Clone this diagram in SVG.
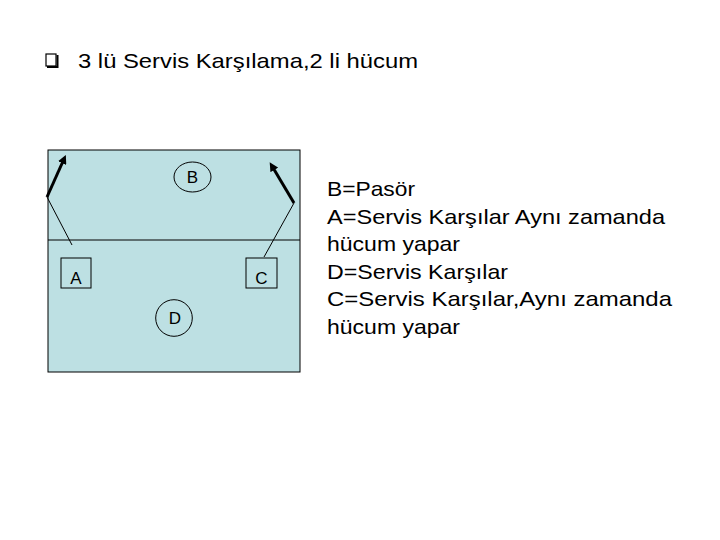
<svg xmlns="http://www.w3.org/2000/svg" width="720" height="540" viewBox="0 0 720 540">
<style>
text{font-family:"Liberation Sans",Arial,sans-serif;fill:#000}
.t{font-size:21px}
.lbl{font-size:17px;text-anchor:middle}
.node{fill:none;stroke:#000;stroke-width:1}
.thin{stroke:#000;stroke-width:1;fill:none}
.thick{stroke:#000;stroke-width:3;fill:none}
</style>
<defs>
<marker id="ah" viewBox="0 0 10 10" refX="5" refY="5" markerWidth="3" markerHeight="3" orient="auto">
<path d="M0,0 L10,5 L0,10 z" fill="#000"/>
</marker>
</defs>
<rect width="720" height="540" fill="#fff"/>
<g id="title">
<rect x="46" y="54" width="10" height="12" fill="#fff" stroke="#000" stroke-width="1.2"/>
<path d="M47,67 H57.5 V55" fill="none" stroke="#000" stroke-width="2"/>
<text class="t" x="78" y="68" textLength="340" lengthAdjust="spacingAndGlyphs">3 lü Servis Karşılama,2 li hücum</text>
</g>
<g id="court">
<rect x="48" y="150" width="252" height="222" fill="#bde0e3" stroke="#000" stroke-width="1"/>
<line x1="48" y1="240" x2="300" y2="240" stroke="#000" stroke-width="1"/>
</g>
<g id="connectors">
<polyline class="thin" points="72,245 47,197"/>
<line class="thick" x1="47" y1="197" x2="64" y2="159" marker-end="url(#ah)"/>
<polyline class="thin" points="264,257 294,203"/>
<line class="thick" x1="294" y1="203" x2="272" y2="166" marker-end="url(#ah)"/>
</g>
<g id="node-B">
<ellipse class="node" cx="192.5" cy="177" rx="18.5" ry="15"/>
<text class="lbl" x="192.5" y="183">B</text>
</g>
<g id="node-A">
<rect class="node" x="61" y="258" width="30" height="30"/>
<text class="lbl" x="76" y="284">A</text>
</g>
<g id="node-C">
<rect class="node" x="246" y="258" width="31" height="30"/>
<text class="lbl" x="261.5" y="284">C</text>
</g>
<g id="node-D">
<circle class="node" cx="174" cy="318" r="18.3"/>
<text class="lbl" x="175" y="324">D</text>
</g>
<g id="legend">
<text class="t" x="327" y="196" textLength="88" lengthAdjust="spacingAndGlyphs">B=Pasör</text>
<text class="t" x="327" y="223.5" textLength="338" lengthAdjust="spacingAndGlyphs">A=Servis Karşılar Aynı zamanda</text>
<text class="t" x="327" y="251" textLength="133" lengthAdjust="spacingAndGlyphs">hücum yapar</text>
<text class="t" x="327" y="278.5" textLength="181" lengthAdjust="spacingAndGlyphs">D=Servis Karşılar</text>
<text class="t" x="327" y="306" textLength="345" lengthAdjust="spacingAndGlyphs">C=Servis Karşılar,Aynı zamanda</text>
<text class="t" x="327" y="333.5" textLength="133" lengthAdjust="spacingAndGlyphs">hücum yapar</text>
</g>
</svg>
